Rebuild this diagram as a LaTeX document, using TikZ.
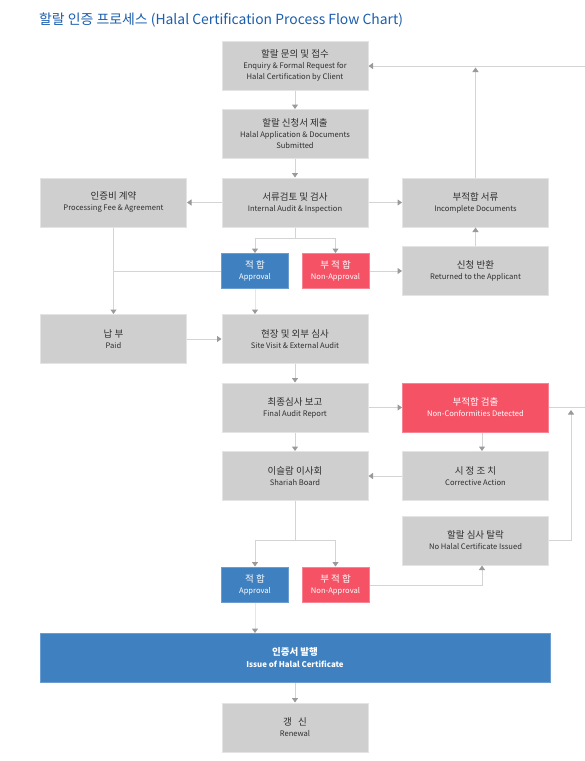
\documentclass[tikz,border=0pt]{standalone}
\usepackage{fontspec}
\setmainfont{Noto Sans CJK KR}
\usetikzlibrary{arrows.meta}
\definecolor{boxgray}{HTML}{CFCFCF}
\definecolor{boxedge}{HTML}{E4E4E4}
\definecolor{lnc}{HTML}{D4D4D4}
\definecolor{lnl}{HTML}{E6E6E6}
\definecolor{tipc}{HTML}{9A9A9A}
\definecolor{bluebox}{HTML}{3E80C0}
\definecolor{blueedge}{HTML}{6B9DD0}
\definecolor{redbox}{HTML}{F55266}
\definecolor{rededge}{HTML}{F88392}
\definecolor{titleblue}{HTML}{1B5FAE}
\definecolor{kortext}{HTML}{2E2E2E}
\definecolor{engtext}{HTML}{444444}
\newcommand{\kt}[1]{{\fontsize{9.5}{12.5}\selectfont #1}}
\tikzset{
  x=1pt, y=1pt,
  gbox/.style={rectangle, fill=boxgray, draw=boxedge, line width=1pt, minimum width=146pt, minimum height=49pt, inner sep=0pt, align=center, text=kortext, font=\fontsize{7.6}{11}\selectfont},
  bbox/.style={gbox, fill=bluebox, draw=blueedge, text=white},
  rbox/.style={gbox, fill=redbox, draw=rededge, text=white},
  sbox/.style={minimum width=67pt, minimum height=35pt},
  conn/.style={draw=lnc, line width=1pt},
  arr/.style={conn, -{Triangle[width=6pt,length=4.5pt,color=tipc]}},
}
\begin{document}
\begin{tikzpicture}
\useasboundingbox (0,0) rectangle (585,-761);
\fill[white] (0,0) rectangle (585,-761);
\node[anchor=west, text=titleblue, font=\fontsize{13.9}{16}\selectfont, inner sep=0pt] (title) at (39,-20) {할랄 인증 프로세스 (Halal Certification Process Flow Chart)};

\node[gbox] (enq) at (295,-65.5) {\kt{할랄 문의 및 접수}\\Enquiry \& Formal Request for\\Halal Certification by Client};
\node[gbox] (app) at (295,-134) {\kt{할랄 신청서 제출}\\Halal Application \& Documents\\Submitted};
\node[gbox] (aud) at (295,-202.5) {\kt{서류검토 및 검사}\\Internal Audit \& Inspection};
\node[gbox] (fee) at (113.5,-202.5) {\kt{인증비 계약}\\Processing Fee \& Agreement};
\node[gbox] (inc) at (475.5,-202.5) {\kt{부적합 서류}\\Incomplete Documents};
\node[bbox, sbox] (ok1) at (255,-271) {\kt{적 합}\\Approval};
\node[rbox, sbox] (no1) at (335.5,-271) {\kt{부 적 합}\\Non-Approval};
\node[gbox] (ret) at (475.5,-271) {\kt{신청 반환}\\Returned to the Applicant};
\node[gbox] (paid) at (113.5,-339) {\kt{납 부}\\Paid};
\node[gbox] (site) at (295,-339) {\kt{현장 및 외부 심사}\\Site Visit \& External Audit};
\node[gbox] (fin) at (295,-407.5) {\kt{최종심사 보고}\\Final Audit Report};
\node[rbox] (ncf) at (475.5,-407.5) {\kt{부적합 검출}\\Non-Conformities Detected};
\node[gbox] (sha) at (295,-476) {\kt{이슬람 이사회}\\Shariah Board};
\node[gbox] (cor) at (475.5,-476) {\kt{시 정 조 치}\\Corrective Action};
\node[gbox] (nhl) at (475.5,-540.5) {\kt{할랄 심사 탈락}\\No Halal Certificate Issued};
\node[bbox, sbox] (ok2) at (255,-584.5) {\kt{적 합}\\Approval};
\node[rbox, sbox] (no2) at (335.5,-584.5) {\kt{부 적 합}\\Non-Approval};
\node[bbox, minimum width=510pt, font=\bfseries\fontsize{7.9}{12}\selectfont] (iss) at (295,-658) {\kt{인증서 발행}\\Issue of Halal Certificate};
\node[gbox] (ren) at (295,-727.5) {\kt{갱 \ \ 신}\\Renewal};

% coordinates for free ends and bends
\coordinate (b1) at (295,-238.5);
\coordinate (j1) at (113.5,-271);
\coordinate (rt1) at (585,-66);
\coordinate (up1) at (475.5,-67.5);
\coordinate (rt2) at (585,-407);
\coordinate (k1) at (571,-540.5);
\coordinate (up2) at (571,-410);
\coordinate (b2) at (295,-540.5);
\coordinate (k2) at (482,-585.3);

\draw[arr] (enq) -- (app);
\draw[arr] (app) -- (aud);
\draw[arr] (aud) -- (fee);
\draw[arr] (aud) -- (inc);
\draw[conn] (aud.south) -- (b1);
\draw[arr] (b1) -| (ok1.north);
\draw[arr] (b1) -| (no1.north);
\draw[conn] (ok1.west) -- (j1);
\draw[arr] (fee) -- (paid);
\draw[arr, draw=lnl] (ok1.south) -- (ok1.south |- site.north);
\draw[arr] (no1.east) -- (no1.east -| ret.west);
\draw[arr] (ret) -- (inc);
\draw[arr] (inc.north) -- (up1);
\draw[arr] (rt1) -- (rt1 -| enq.east);
\draw[arr] (paid) -- (site);
\draw[arr] (site) -- (fin);
\draw[arr] (fin) -- (ncf);
\draw[arr] (fin) -- (sha);
\draw[arr] ([xshift=6.5pt]ncf.south) -- ([xshift=6.5pt]cor.north);
\draw[conn] (ncf.east |- rt2) -- (rt2);
\draw[arr] (cor) -- (sha);
\draw[arr] (nhl.east) -- (k1) -- (up2);
\draw[conn] (sha.south) -- (b2);
\draw[arr] (b2) -| (ok2.north);
\draw[arr] (b2) -| (no2.north);
\draw[arr] (no2.east |- k2) -- (k2) -- (k2 |- nhl.south);
\draw[arr, draw=lnl] (ok2.south) -- (ok2.south |- iss.north);
\draw[arr] (iss) -- (ren);
\end{tikzpicture}
\end{document}
